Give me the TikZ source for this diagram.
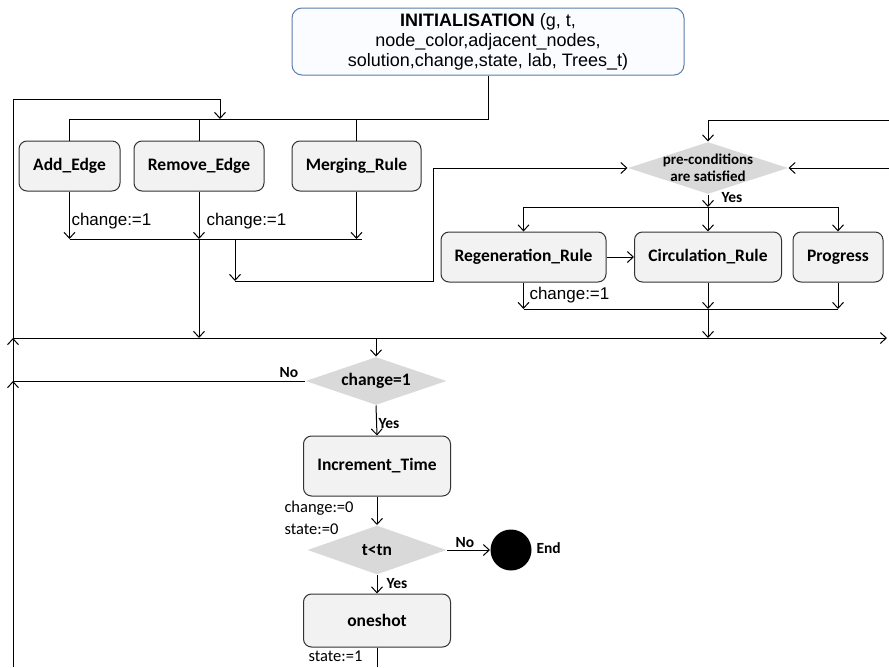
\documentclass[tikz,border=0pt]{standalone}
\usepackage{fontspec}
\setmainfont{Liberation Sans}
\newfontfamily\calib{Carlito}
\usetikzlibrary{shapes.geometric, arrows.meta}
\definecolor{initline}{HTML}{5B7DA8}
\definecolor{initfill}{HTML}{FAFCFF}
\definecolor{boxfill}{HTML}{F2F2F2}
\definecolor{decfill}{HTML}{D9D9D9}

\begin{document}
\begin{tikzpicture}[x=1pt, y=-1pt, line width=1pt,
  initbox/.style={draw=initline, fill=initfill, rounded corners=10pt, align=center,
    minimum width=392pt, minimum height=67pt, font=\fontsize{18}{20}\selectfont},
  box/.style={draw=black!80, fill=boxfill, rounded corners=8pt, minimum height=50pt,
    font=\calib\bfseries\fontsize{17.5}{20}\selectfont},
  decision/.style={diamond, fill=decfill, inner sep=0pt},
  dectext/.style={align=center, font=\calib\bfseries\fontsize{17.5}{20}\selectfont},
  tag/.style={font=\calib\bfseries\fontsize{15.5}{18}\selectfont, inner sep=0pt},
  note/.style={anchor=west, inner sep=0pt, font=\fontsize{17}{20}\selectfont},
  notecal/.style={anchor=west, inner sep=0pt, font=\calib\fontsize{16.5}{20}\selectfont},
  arr/.style={-{Straight Barb[length=6pt,width=11pt]}}]
\useasboundingbox (0,0) rectangle (889,667);
% INITIALISATION
\node[initbox] (init) at (488,41.5) {\textbf{INITIALISATION} (g, t,\\node\_color,adjacent\_nodes,\\solution,change,state, lab, Trees\_t)};
% first row
\node[box, minimum width=101pt] (addE) at (69.5,166) {Add\_Edge};
\node[box, minimum width=130pt] (remE) at (199,166) {Remove\_Edge};
\node[box, minimum width=129pt] (merR) at (356.5,166) {Merging\_Rule};
% pre-conditions
\node[decision, minimum width=160pt, minimum height=52pt] (pc) at (708,168) {};
\node[dectext, font=\calib\bfseries\fontsize{15}{17}\selectfont] (pct) at (pc) {pre-conditions\\are satisfied};
% second row
\node[box, minimum width=165pt] (regR) at (523.5,257) {Regeneration\_Rule};
\node[box, minimum width=147pt] (cirR) at (708,257) {Circulation\_Rule};
\node[box, minimum width=90pt] (prog) at (838,257) {Progress};
% lower part
\node[decision, minimum width=141pt, minimum height=48pt] (chg) at (376,381) {};
\node[dectext] (chgt) at (chg) {change=1};
\node[box, minimum width=147pt, minimum height=60pt] (inc) at (377,466) {Increment\_Time};
\node[decision, minimum width=139pt, minimum height=49pt] (tn) at (377,550) {};
\node[dectext] (tnt) at (tn) {t<tn};
\node[circle, fill=black, minimum size=41pt, inner sep=0pt] (fin) at (511,550) {};
\node[box, minimum width=147pt, minimum height=53pt] (one) at (377,620.5) {oneshot};

% bus points
\coordinate (busA) at (488,119);
\coordinate (lb) at (13,667);
\coordinate (lno) at (13,381);
\coordinate (lbus) at (13,338);
\coordinate (ltop) at (13,99);
\coordinate (ain) at (220,119);
\coordinate (j1) at (362,239);
\coordinate (j1a) at (235,239);
\coordinate (j1b) at (235,281);
\coordinate (j1c) at (433,281);
\coordinate (rtop) at (889,120);
\coordinate (rmid) at (889,168);
\coordinate (sp) at (708,207);
\coordinate (j2) at (708,309);
\coordinate (rbus) at (887,338);
\coordinate (ob) at (377,667);

% top loop
\draw (init.south) -- (busA) -| (addE.north);
\draw (busA) -| (remE.north);
\draw (busA) -| (merR.north);
\draw[arr] (lb) -- (lno);
\draw[arr] (lno) -- (lbus);
\draw[arr] (lbus) -- (ltop) -| (ain);
% first row join
\draw[arr] (addE.south) -- (addE.south |- j1);
\draw[arr] (remE.south) -- (remE.south |- j1);
\draw[arr] (merR.south) -- (merR.south |- j1);
\draw (addE.south |- j1) -- (j1);
\draw[arr] (remE.south |- j1) -- (remE.south |- lbus);
\draw[arr] (j1a) -- (j1b);
\draw[arr] (j1b) -- (j1c) |- (pc.west);
% right part
\draw[arr] (rtop) -| (pc.north);
\draw[arr] (rmid) -- (pc.east);
\draw[arr] (pc.south) -- (sp);
\draw (regR.north |- sp) -- (prog.north |- sp);
\draw[arr] (regR.north |- sp) -- (regR.north);
\draw[arr] (sp) -- (cirR.north);
\draw[arr] (prog.north |- sp) -- (prog.north);
\draw[arr] (regR.east) -- (cirR.west);
\draw[arr] (regR.south) -- (regR.south |- j2);
\draw[arr] (cirR.south) -- (j2);
\draw[arr] (prog.south) -- (prog.south |- j2);
\draw (regR.south |- j2) -- (prog.south |- j2);
\draw[arr] (j2) -- (cirR.south |- lbus);
% main bus
\draw[arr] (lbus) -- (rbus);
\draw[arr] (chg.north |- lbus) -- (chg.north);
\draw (chg.west) -- (lno);
\draw[arr] (chg.south) -- (inc.north);
\draw[arr] (inc.south) -- (tn.north);
\draw[arr] (tn.east) -- (fin.west);
\draw[arr] (tn.south) -- (one.north);
\draw (one.south) -- (ob);

%Text
\node[note] (c1a) at (71,221) {change:=1};
\node[note] (c1b) at (206,221) {change:=1};
\node[note] (c1c) at (529,295) {change:=1};
\node[tag, anchor=west] (yes1) at (721,198) {Yes};
\node[tag] (no1) at (289,373) {No};
\node[tag, anchor=west] (yes2) at (378,424) {Yes};
\node[notecal] (c0) at (284,508) {change:=0};
\node[notecal] (s0) at (284,529) {state:=0};
\node[tag] (no2) at (465,543) {No};
\node[tag, anchor=west] (endl) at (536,548) {End};
\node[tag, anchor=west] (yes3) at (386,584) {Yes};
\node[notecal] (s1) at (308,656) {state:=1};
\end{tikzpicture}
\end{document}
